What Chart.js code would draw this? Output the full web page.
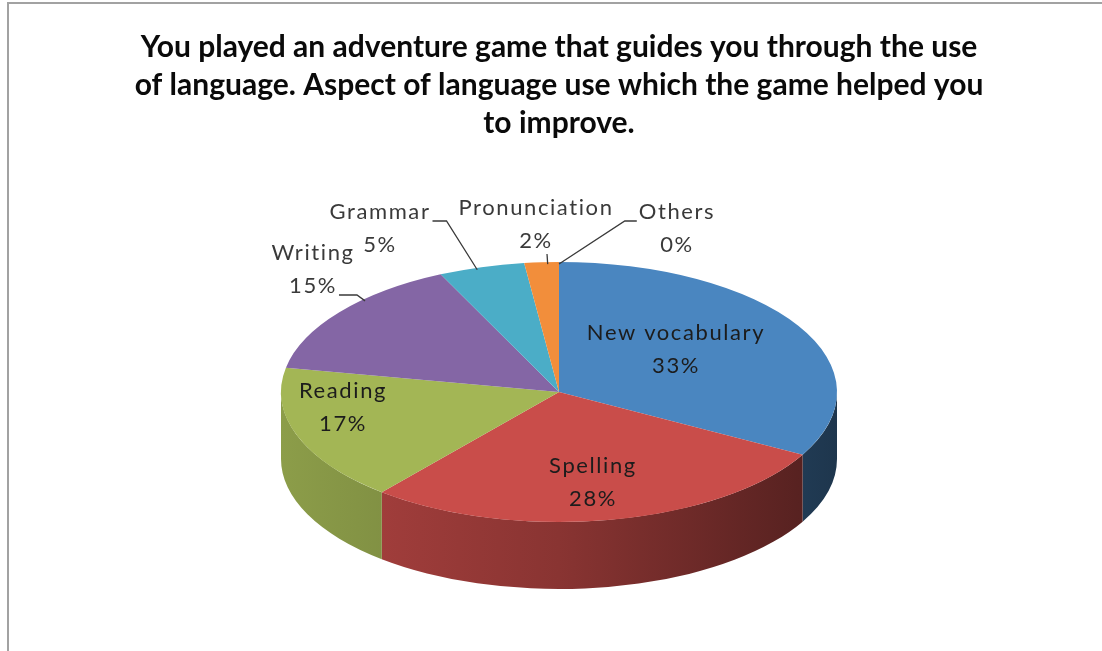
<!DOCTYPE html>
<html>
<head>
<meta charset="utf-8">
<script src="https://cdn.jsdelivr.net/npm/chart.js@4.4.1/dist/chart.umd.min.js"></script>
<style>
  html, body { margin: 0; padding: 0; background: #fff; }
  #wrap { position: relative; width: 1102px; height: 651px; overflow: hidden; background: #fff; }
  #frame { position: absolute; left: 7px; top: 2px; right: -10px; bottom: -10px;
           border-left: 2px solid #a2a2a2; border-top: 2px solid #a2a2a2; }
  canvas { position: absolute; left: 0; top: 0; }
</style>
</head>
<body>
<div id="wrap">
  <div id="frame"></div>
  <canvas id="chart" width="1102" height="651"></canvas>
</div>
<script>
// ---- data ----
const titleLines = [
  'You played an adventure game that guides you through the use',
  'of language. Aspect of language use which the game helped you',
  'to improve.'
];
const categories = ['New vocabulary', 'Spelling', 'Reading', 'Writing', 'Grammar', 'Pronunciation', 'Others'];
const percentages = [33, 28, 17, 15, 5, 2, 0];

// ---- styles ----
const sliceColors = ['#4A86C0', '#C94D4A', '#A3B655', '#8466A5', '#4BADC7', '#F28E3B', '#B0B0B0'];

// geometry of the tilted pie (top face ellipse + wall depth)
const CX = 559, CY = 392, RX = 278, RY = 130, DEPTH = 67;

// label placement: centre of the first text line; optional leader line
const labelLayout = [
  { x: 676, y: 333 },
  { x: 593, y: 466 },
  { x: 343, y: 391 },
  { x: 313, y: 253, leader: 'right', line: 1, elbow: 18 },
  { x: 380, y: 212, leader: 'right', line: 0, elbow: 14 },
  { x: 536, y: 208, leader: 'down', line: 1 },
  { x: 677, y: 212, leader: 'left', line: 0, elbow: 12 }
];
const LINE_GAP = 33;
const LABEL_FONT = '22px Lato';

function shade(hex, f) {
  const n = parseInt(hex.slice(1), 16);
  const r = Math.round(((n >> 16) & 255) * f);
  const g = Math.round(((n >> 8) & 255) * f);
  const b = Math.round((n & 255) * f);
  return `rgb(${r},${g},${b})`;
}

// Draws the side walls, tilts the library-drawn pie into an ellipse, and adds labels.
const pie3d = {
  id: 'pie3d',
  beforeDatasetsDraw(chart) {
    const ctx = chart.ctx;
    const arcs = chart.getDatasetMeta(0).data;
    // front walls: visible part of each slice between 3 o'clock and 9 o'clock
    arcs.forEach((arc, i) => {
      const a1 = Math.max(arc.startAngle, 0);
      const a2 = Math.min(arc.endAngle, Math.PI);
      if (a2 <= a1) return;
      const col = sliceColors[i];
      const grad = ctx.createLinearGradient(CX - RX, 0, CX + RX, 0);
      grad.addColorStop(0, shade(col, 0.86));
      grad.addColorStop(0.5, shade(col, 0.68));
      grad.addColorStop(1, shade(col, 0.40));
      ctx.beginPath();
      ctx.ellipse(CX, CY, RX, RY, 0, a1, a2);
      ctx.ellipse(CX, CY + DEPTH, RX, RY, 0, a2, a1, true);
      ctx.closePath();
      ctx.fillStyle = grad;
      ctx.fill();
    });
    ctx.save();
    const a0 = arcs[0];
    ctx.translate(CX, CY);
    ctx.scale(1, RY / a0.outerRadius);
    ctx.translate(-a0.x, -a0.y);
  },
  afterDatasetsDraw(chart) {
    chart.ctx.restore();
  },
  afterDraw(chart) {
    const ctx = chart.ctx;
    const arcs = chart.getDatasetMeta(0).data;
    ctx.save();
    ctx.font = LABEL_FONT;
    ctx.letterSpacing = '1.6px';
    ctx.textAlign = 'center';
    ctx.textBaseline = 'middle';
    arcs.forEach((arc, i) => {
      const L = labelLayout[i];
      const lines = [categories[i], percentages[i] + '%'];
      const outside = !!L.leader;
      ctx.fillStyle = outside ? '#3a3a3a' : '#1c1c1c';
      lines.forEach((t, k) => ctx.fillText(t, L.x, L.y + k * LINE_GAP));
      if (!outside) return;
      // leader line from the label to the nearest rim point inside the slice
      const ty = L.y + L.line * LINE_GAP;
      const w = ctx.measureText(lines[L.line]).width;
      let sx, sy, ex, ey;
      if (L.leader === 'right') { sx = L.x + w / 2 + 2; sy = ty + 9; ex = sx + L.elbow; ey = sy; }
      else if (L.leader === 'left') { sx = L.x - w / 2 - 2; sy = ty + 9; ex = sx - L.elbow; ey = sy; }
      else { sx = L.x + 11; sy = ty + 13; ex = sx; ey = sy; }
      let ang = Math.atan2((ey - CY) / RY, (ex - CX) / RX);
      while (ang < arc.startAngle) ang += 2 * Math.PI;
      while (ang > arc.endAngle + 1e-9 && ang - 2 * Math.PI >= arc.startAngle - 1e-9) ang -= 2 * Math.PI;
      ang = Math.min(Math.max(ang, arc.startAngle), arc.endAngle);
      const px = CX + RX * Math.cos(ang), py = CY + RY * Math.sin(ang);
      ctx.beginPath();
      ctx.moveTo(sx, sy);
      ctx.lineTo(ex, ey);
      ctx.lineTo(px, py + 2);
      ctx.strokeStyle = '#3a3a3a';
      ctx.lineWidth = 1.3;
      ctx.stroke();
    });
    ctx.restore();
  }
};

new Chart(document.getElementById('chart'), {
  type: 'pie',
  data: {
    labels: categories,
    datasets: [{
      data: percentages,
      backgroundColor: sliceColors,
      borderWidth: 0,
      clip: false
    }]
  },
  options: {
    responsive: false,
    devicePixelRatio: 1,
    animation: false,
    events: [],
    radius: RX,
    layout: { padding: { left: 16, right: 0, top: 0, bottom: 0 } },
    plugins: {
      legend: { display: false },
      tooltip: { enabled: false },
      title: {
        display: true,
        text: titleLines,
        color: '#0a0a0a',
        font: { family: 'Lato', weight: 'bold', size: 30, lineHeight: '38px' },
        padding: { top: 28, bottom: 10 }
      }
    }
  },
  plugins: [pie3d]
});
</script>
</body>
</html>
